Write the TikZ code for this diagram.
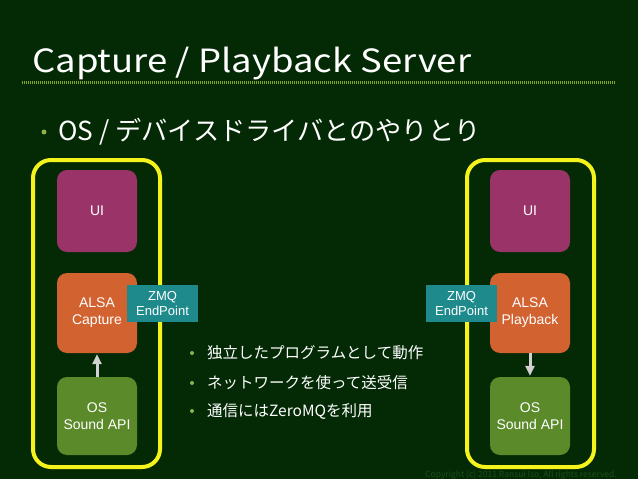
\documentclass[tikz,border=0pt]{standalone}
\usepackage{fontspec}
\setmainfont{Noto Sans CJK JP}
\newfontfamily\titlefont[FakeStretch=1.14]{Noto Sans CJK JP}
\newfontfamily\boxfont{Liberation Sans}
\usetikzlibrary{arrows.meta}
\definecolor{slidebg}{HTML}{032A05}
\definecolor{framey}{HTML}{F4F41C}
\definecolor{uipurple}{HTML}{9A3468}
\definecolor{alsaorange}{HTML}{D2622F}
\definecolor{osgreen}{HTML}{5B8A2B}
\definecolor{zmqteal}{HTML}{1E8A8C}
\definecolor{rulegreen}{HTML}{86A828}
\definecolor{dotgreen}{HTML}{8DB04A}
\definecolor{copygreen}{HTML}{1F4D1A}
\begin{document}
\begin{tikzpicture}[x=1pt,y=-1pt,
    frame/.style={draw=framey,line width=4pt,rounded corners=18pt,minimum width=127pt,minimum height=307pt,inner sep=0pt},
    block/.style={rounded corners=10pt,minimum width=80pt,minimum height=80pt,inner sep=0pt,text=white,align=center,font=\boxfont\fontsize{14}{17}\selectfont},
    zmq/.style={fill=zmqteal,minimum width=71pt,minimum height=37pt,inner sep=0pt,text=white,align=center,font=\boxfont\fontsize{13}{15}\selectfont},
    flow/.style={draw=black!18,line width=3pt,shorten >=1pt,-{Triangle[width=9pt,length=10pt]}},
    item/.style={anchor=west,text=white,inner sep=0pt,font=\fontsize{15.5}{18}\selectfont}]
                \useasboundingbox[fill=slidebg](0,0) rectangle (638,479);
                \node[anchor=base west,text=white,inner sep=0pt,font=\titlefont\fontsize{32}{36}\selectfont] (title) at (32,72) {Capture / Playback Server};
                \draw[rulegreen,line width=3pt,dash pattern=on 1pt off 1pt](22,82)--(616,82);
                \fill[dotgreen](44,132)circle[radius=2.5];
                \node[anchor=west,text=white,inner sep=0pt,font=\fontsize{26.2}{30}\selectfont] (topic) at (58,132) {OS / デバイスドライバとのやりとり};
                \node[frame] (lframe) at (96.5,313.5) {};
                \node[frame] (rframe) at (530.5,313.5) {};
                \node[block,fill=uipurple,minimum height=82pt] (lui) at (97,211) {UI};
                \node[block,fill=alsaorange] (lalsa) at (97,313) {ALSA\\Capture};
                \node[block,fill=osgreen,minimum height=78pt] (los) at (97,416) {OS\\Sound API};
                \node[block,fill=uipurple,minimum height=82pt] (rui) at (530,211) {UI};
                \node[block,fill=alsaorange] (ralsa) at (530,313) {ALSA\\Playback};
                \node[block,fill=osgreen,minimum height=78pt] (ros) at (530,416) {OS\\Sound API};
                \node[zmq] (lzmq) at (162.5,303.5) {ZMQ\\EndPoint};
                \node[zmq] (rzmq) at (461.5,303.5) {ZMQ\\EndPoint};
                \draw[flow](los.north)--(lalsa.south);
                \draw[flow](ralsa.south)--(ros.north);
                \fill[dotgreen](192,353)circle[radius=2];
                \fill[dotgreen](192,383)circle[radius=2];
                \fill[dotgreen](192,411)circle[radius=2];
                \node[item] (itemA) at (207,353) {独立したプログラムとして動作};
                \node[item] (itemB) at (207,383) {ネットワークを使って送受信};
                \node[item] (itemC) at (207,411) {通信にはZeroMQを利用};
                \node[anchor=east,text=copygreen,inner sep=0pt,font=\fontsize{8.5}{10}\selectfont] (copy) at (617,475) {Copyright (c) 2011 Ransui Iso, All rights reserved.};
            \end{tikzpicture}
\end{document}
